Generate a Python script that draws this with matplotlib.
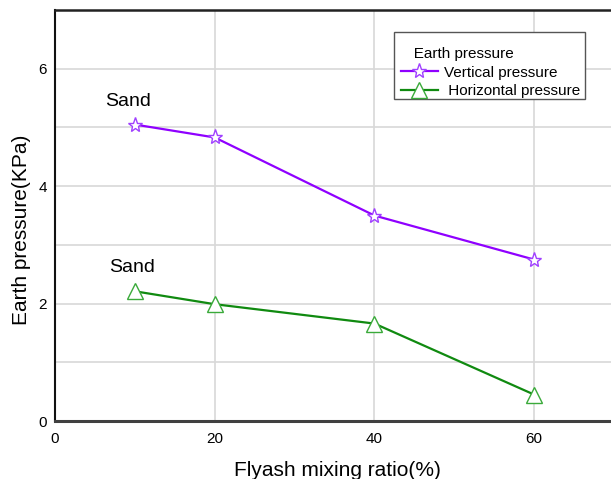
import matplotlib
matplotlib.use("Agg")
import matplotlib.pyplot as plt
from matplotlib.patches import Rectangle

plt.rcParams['font.family'] = ['Liberation Sans', 'DejaVu Sans']

ratio = [10, 20, 40, 60]
vertical = [5.05, 4.83, 3.50, 2.75]
horizontal = [2.21, 1.99, 1.66, 0.45]
xticks = [0, 20, 40, 60]
yticks = [0, 2, 4, 6]

fig = plt.figure(figsize=(6.11, 4.79), dpi=100)
ax = fig.add_axes([0.090, 0.121, 0.915, 0.858])

ax.plot(ratio, vertical, color='#8f00ff', lw=1.6, marker='*', ms=11,
        mfc='white', mec='#a040ff', mew=1.0, label='Vertical pressure', zorder=3)
ax.plot(ratio, horizontal, color='#108a10', lw=1.6, marker='^', ms=11.5,
        mfc='white', mec='#3aaa3a', mew=1.0, label=' Horizontal pressure', zorder=3)

ax.set_xlim(0, 70)
ax.set_ylim(0, 7)
ax.set_xticks(xticks)
ax.set_yticks(yticks)
ax.set_yticks([1, 3, 5], minor=True)
ax.grid(True, which='major', color='#d8d8d8', lw=1.2)
ax.grid(True, which='minor', axis='y', color='#d8d8d8', lw=1.2)
ax.set_axisbelow(True)
ax.tick_params(which='both', length=0)
ax.tick_params(axis='x', pad=8, labelsize=11)
ax.tick_params(axis='y', pad=6, labelsize=11)

ax.spines['right'].set_visible(False)
ax.spines['left'].set_color('#111111')
ax.spines['left'].set_linewidth(1.5)
ax.spines['bottom'].set_color('#404040')
ax.spines['bottom'].set_linewidth(2.2)
ax.spines['top'].set_color('#222222')
ax.spines['top'].set_linewidth(1.8)

ax.set_xlabel('Flyash mixing ratio(%)', fontsize=15, labelpad=11)
ax.set_ylabel('Earth pressure(KPa)', fontsize=15, labelpad=5)
ax.xaxis.label.set_x(0.505)
ax.yaxis.label.set_y(0.466)

ax.text(9.1, 5.44, 'Sand', fontsize=14, ha='center', va='center')
ax.text(9.6, 2.62, 'Sand', fontsize=14, ha='center', va='center')

box = Rectangle((0.6064, 0.7835), 0.948 - 0.6064, 0.9465 - 0.7835,
                transform=ax.transAxes, facecolor='white', edgecolor='#555555',
                lw=1.0, zorder=4)
ax.add_patch(box)

leg = ax.legend(loc='upper left', bbox_to_anchor=(0.6064, 0.9265), borderaxespad=0,
                title='   Earth pressure', alignment='left', fontsize=11,
                title_fontsize=11, frameon=False, handlelength=2.4,
                handletextpad=0.45, borderpad=0.45, labelspacing=0.3)
leg.set_zorder(5)

fig.savefig('out.png', dpi=100)
